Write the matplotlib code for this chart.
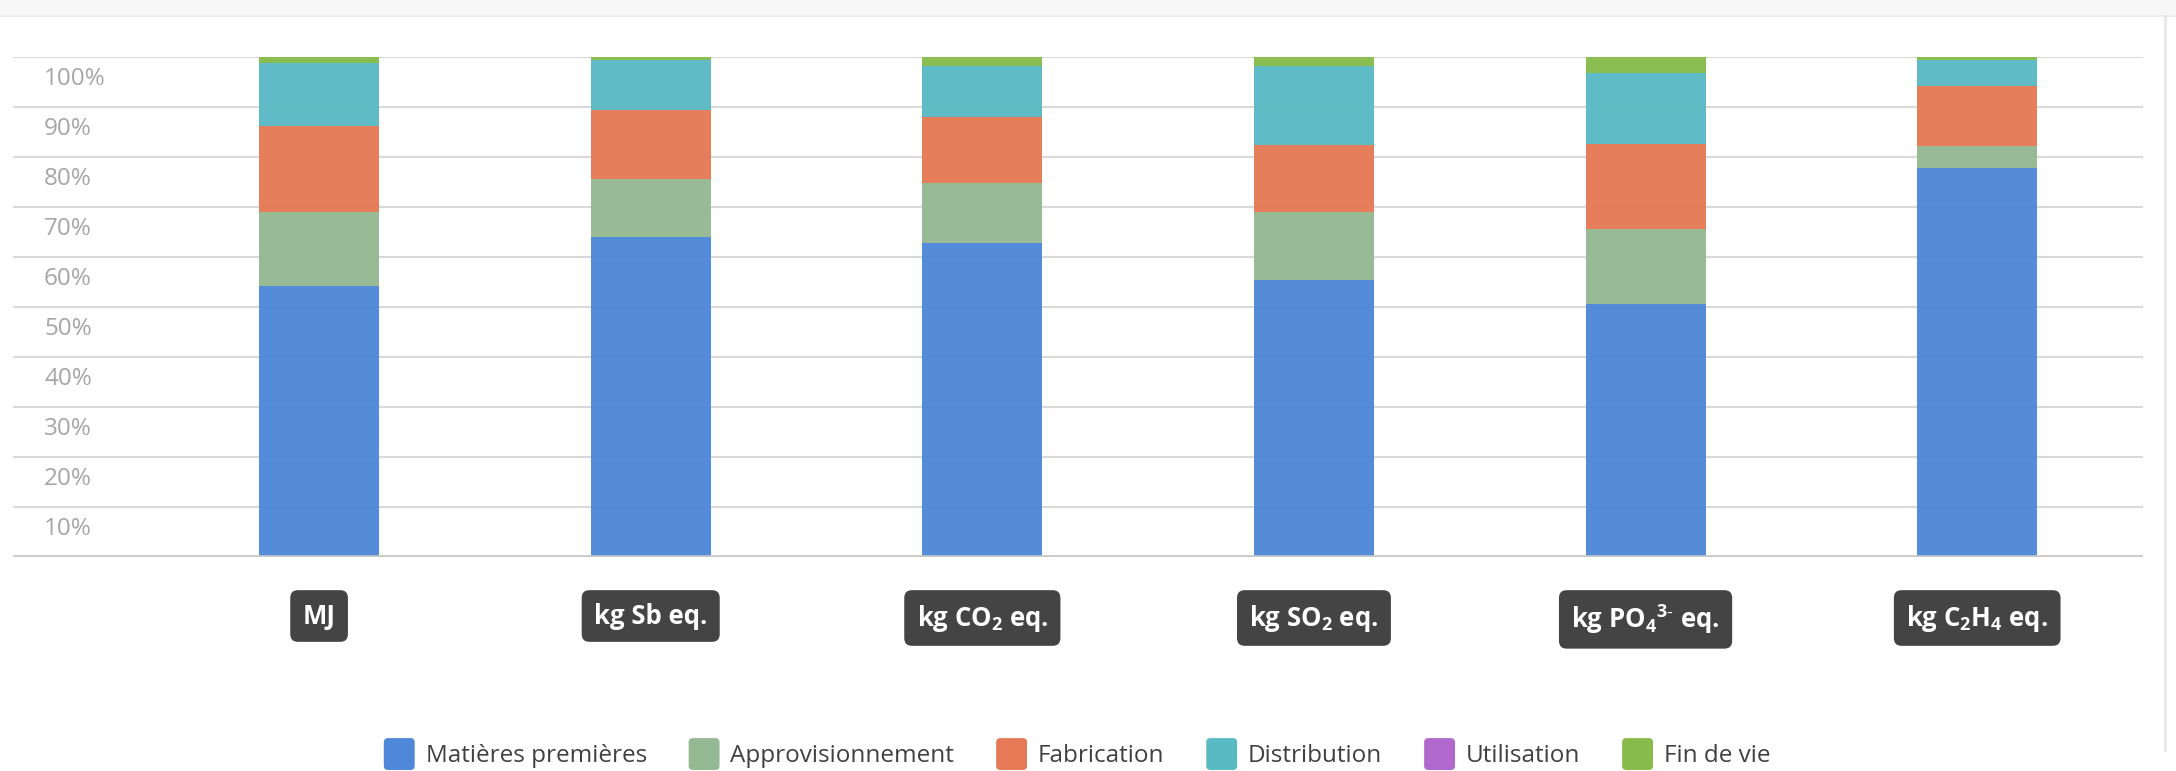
import numpy as np
import matplotlib
matplotlib.use("Agg")
import matplotlib.pyplot as plt
import matplotlib.patches as patches
from matplotlib.legend_handler import HandlerPatch
from matplotlib.lines import Line2D

plt.rcParams['font.family'] = ['Open Sans', 'DejaVu Sans']
plt.rcParams['mathtext.default'] = 'regular'

# data (share of each life-cycle stage, %)
categories = ['MJ', 'kg Sb eq.', 'kg CO$_2$ eq.', 'kg SO$_2$ eq.',
              'kg PO$_4$$^{3\u2010}$ eq.', 'kg C$_2$H$_4$ eq.']
stages = ['Matières premières', 'Approvisionnement', 'Fabrication',
          'Distribution', 'Utilisation', 'Fin de vie']
matieres = [54.2, 64.1, 62.8, 55.5, 50.7, 77.9]
appro = [14.8, 11.6, 12.1, 13.5, 15.0, 4.3]
fabrication = [17.2, 13.8, 13.2, 13.5, 17.0, 12.1]
distribution = [12.7, 9.9, 10.2, 15.8, 14.2, 5.1]
utilisation = [0, 0, 0, 0, 0, 0]
fin_de_vie = [1.1, 0.6, 1.7, 1.7, 3.1, 0.6]
yticks = [10, 20, 30, 40, 50, 60, 70, 80, 90, 100]

colors = ['#4f88d8', '#95b992', '#e67a57', '#5abac4', '#b168cc', '#87bc4b']


class RoundHandler(HandlerPatch):
    def create_artists(self, legend, orig_handle, xdescent, ydescent,
                       width, height, fontsize, trans):
        r = 3
        p = patches.FancyBboxPatch((-xdescent + r, -ydescent + r),
                                   width - 2 * r, height - 2 * r,
                                   boxstyle="round,pad=%d" % r,
                                   fc=orig_handle.get_facecolor(), ec='none',
                                   transform=trans)
        return [p]


fig = plt.figure(figsize=(21.76, 7.71), dpi=100)

# top band and right border of the panel
fig.patches.append(patches.Rectangle((0, 1 - 15 / 771), 1, 15 / 771,
                                     transform=fig.transFigure,
                                     fc='#f7f7f7', ec='none'))
fig.lines.append(Line2D([0, 1], [1 - 16 / 771] * 2, transform=fig.transFigure,
                        color='#ececec', lw=1.5))
fig.lines.append(Line2D([2165 / 2176] * 2, [1 - 750 / 771, 1 - 16 / 771],
                        transform=fig.transFigure, color='#e8e8e8', lw=2))

ax = fig.add_axes([13 / 2176, 1 - 557 / 771, 2130 / 2176, 500 / 771])
ax.set_xlim(-0.923, 5.50)
ax.set_ylim(0, 100)
ax.axis('off')

for v in yticks:
    ax.axhline(v, color='#d9d9d9', lw=1.5, zorder=0)
    ax.text(0.0146, v - 5.6, '%d%%' % v, transform=ax.get_yaxis_transform(),
            ha='left', va='baseline', fontsize=17.5, color='#a6a6a6')
ax.axhline(0, color='#c8c8c8', lw=2.6, zorder=3)

x = np.arange(len(categories))
series = [matieres, appro, fabrication, distribution, utilisation, fin_de_vie]
bottom = np.zeros(len(categories))
for name, vals, c in zip(stages, series, colors):
    ax.bar(x, vals, 0.362, bottom=bottom, color=c, alpha=0.97,
           edgecolor='none', label=name, zorder=2)
    bottom += np.array(vals)

for i, lab in enumerate(categories):
    ax.text(x[i], -9.1, lab, ha='center', va='top', fontsize=18.5,
            fontweight='bold', color='white', clip_on=False,
            bbox=dict(boxstyle='round,pad=0.48,rounding_size=0.3',
                      fc='#444444', ec='none'))

handles = [patches.Patch(fc=c) for c in colors]
fig.legend(handles, stages, loc='center', bbox_to_anchor=(0.495, 0.022),
           ncol=6, frameon=False, fontsize=17.5, labelcolor='#404040',
           handlelength=1.27, handleheight=1.64, handletextpad=0.45,
           columnspacing=1.72, borderpad=0,
           handler_map={patches.Patch: RoundHandler()})

fig.savefig('out.png', dpi=100)
